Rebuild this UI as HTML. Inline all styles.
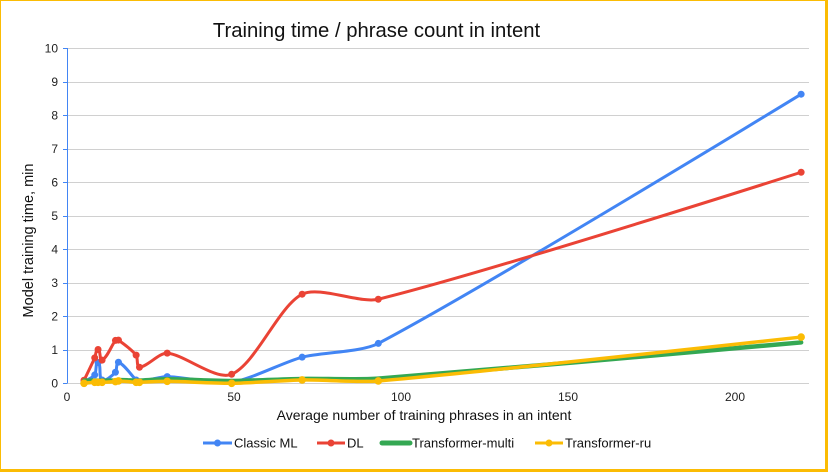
<!DOCTYPE html>
<html><head><meta charset="utf-8">
<style>
html,body{margin:0;padding:0;background:#fff;}
#wrap{position:relative;width:828px;height:472px;overflow:hidden;background:#fff;}
#frame{position:absolute;left:0;top:0;width:828px;height:472px;box-sizing:border-box;border-style:solid;border-color:#fbbc04;border-width:1px 3px 3px 1px;}
svg{position:absolute;left:0;top:0;}
text{font-family:"Liberation Sans",Arial,sans-serif;}
</style></head>
<body>
<div id="wrap">
<svg id="chart" width="828" height="472" viewBox="0 0 828 472" xmlns="http://www.w3.org/2000/svg">
<text x="376.5" y="37" font-size="20.3" text-anchor="middle" fill="#111">Training time / phrase count in intent</text>
<g id="grid" stroke="#d0d0d0" stroke-width="1"></g>
<g id="ylabels" font-size="12" fill="#222" text-anchor="end"></g>
<g id="xlabels" font-size="12" fill="#222" text-anchor="middle"></g>
<line x1="67.5" y1="48" x2="67.5" y2="383.5" stroke="#4285f4" stroke-width="1"/>
<g id="yticks" stroke="#4285f4" stroke-width="1"></g>
<g id="series"></g>
<text x="0" y="0" font-size="14.5" fill="#111" text-anchor="middle" transform="translate(33,240.5) rotate(-90)">Model training time, min</text>
<text x="424" y="420" font-size="14" fill="#111" text-anchor="middle">Average number of training phrases in an intent</text>
<g font-size="13" fill="#111">
  <line x1="203" y1="443" x2="232" y2="443" stroke="#4285f4" stroke-width="3"/>
  <circle cx="217.5" cy="443" r="3.5" fill="#4285f4"/>
  <text x="234" y="447.5">Classic ML</text>
  <line x1="317" y1="443" x2="345" y2="443" stroke="#ea4335" stroke-width="3"/>
  <circle cx="331" cy="443" r="3.5" fill="#ea4335"/>
  <text x="347" y="447.5">DL</text>
  <line x1="382" y1="443" x2="410" y2="443" stroke="#34a853" stroke-width="5" stroke-linecap="round"/>
  <text x="412" y="447.5">Transformer-multi</text>
  <line x1="535" y1="443" x2="563" y2="443" stroke="#fbbc04" stroke-width="3"/>
  <circle cx="549" cy="443" r="3.5" fill="#fbbc04"/>
  <text x="565" y="447.5">Transformer-ru</text>
</g>
</svg>
<div id="frame"></div>
</div>
<script>
(function(){
var NS="http://www.w3.org/2000/svg";
function el(tag,attrs,parent,txt){var e=document.createElementNS(NS,tag);for(var k in attrs)e.setAttribute(k,attrs[k]);if(txt!==undefined)e.textContent=txt;parent.appendChild(e);return e;}
var X0=67,PX=3.34,Y0=383.3,PY=33.5;
function xp(v){return X0+PX*v;} function yp(v){return Y0-PY*v;}
var grid=document.getElementById('grid'),yl=document.getElementById('ylabels'),xl=document.getElementById('xlabels'),yt=document.getElementById('yticks');
for(var i=0;i<=10;i++){
  var y=Math.round(yp(i))+0.5;
  el('line',{x1:67,y1:y,x2:809,y2:y},grid);
  el('line',{x1:63,y1:y,x2:67,y2:y},yt);
  el('text',{x:58,y:yp(i)+4.3},yl,String(i));
}
[0,50,100,150,200].forEach(function(v){el('text',{x:xp(v),y:401},xl,String(v));});
var X=[5.1,8.3,9.3,10.5,14.5,15.4,20.7,21.7,30,49.3,70.4,93.2,219.8];
var S=[
 {c:'#4285f4',w:3,r:3.5,d:[0.05,0.25,0.62,0.1,0.33,0.63,0.1,0.05,0.2,0.03,0.78,1.19,8.63]},
 {c:'#ea4335',w:3,r:3.5,d:[0.09,0.76,1.01,0.69,1.28,1.29,0.84,0.48,0.9,0.27,2.66,2.51,6.3]},
 {c:'#34a853',w:4.5,r:0,d:[0.08,0.08,0.08,0.08,0.08,0.1,0.08,0.08,0.12,0.07,0.13,0.14,1.22]},
 {c:'#fbbc04',w:3.5,r:3.8,d:[0.0,0.03,0.03,0.03,0.05,0.07,0.03,0.03,0.06,0.0,0.1,0.07,1.38]}
];
var ser=document.getElementById('series');
var T=0.25;
S.forEach(function(s){
  var P=X.map(function(x,i){return [xp(x),yp(s.d[i])];});
  var n=P.length,cin=[],cout=[];
  for(var i=0;i<n;i++){
    var p=P[i];
    if(i===0||i===n-1){cin[i]=p;cout[i]=p;continue;}
    var a=P[i-1],b=P[i+1];
    var dx=b[0]-a[0],dy=b[1]-a[1],L=Math.sqrt(dx*dx+dy*dy)||1;dx/=L;dy/=L;
    var l1=Math.hypot(p[0]-a[0],p[1]-a[1])*T,l2=Math.hypot(b[0]-p[0],b[1]-p[1])*T;
    cin[i]=[p[0]-dx*l1,p[1]-dy*l1];cout[i]=[p[0]+dx*l2,p[1]+dy*l2];
  }
  var d='M'+P[0][0].toFixed(2)+' '+P[0][1].toFixed(2);
  for(var i=1;i<n;i++){
    d+=' C'+cout[i-1][0].toFixed(2)+' '+cout[i-1][1].toFixed(2)+' '+cin[i][0].toFixed(2)+' '+cin[i][1].toFixed(2)+' '+P[i][0].toFixed(2)+' '+P[i][1].toFixed(2);
  }
  el('path',{d:d,fill:'none',stroke:s.c,'stroke-width':s.w,'stroke-linejoin':'round','stroke-linecap':'round'},ser);
  if(s.r>0)P.forEach(function(p){el('circle',{cx:p[0],cy:p[1],r:s.r,fill:s.c},ser);});
});
})();
</script>
</body></html>
